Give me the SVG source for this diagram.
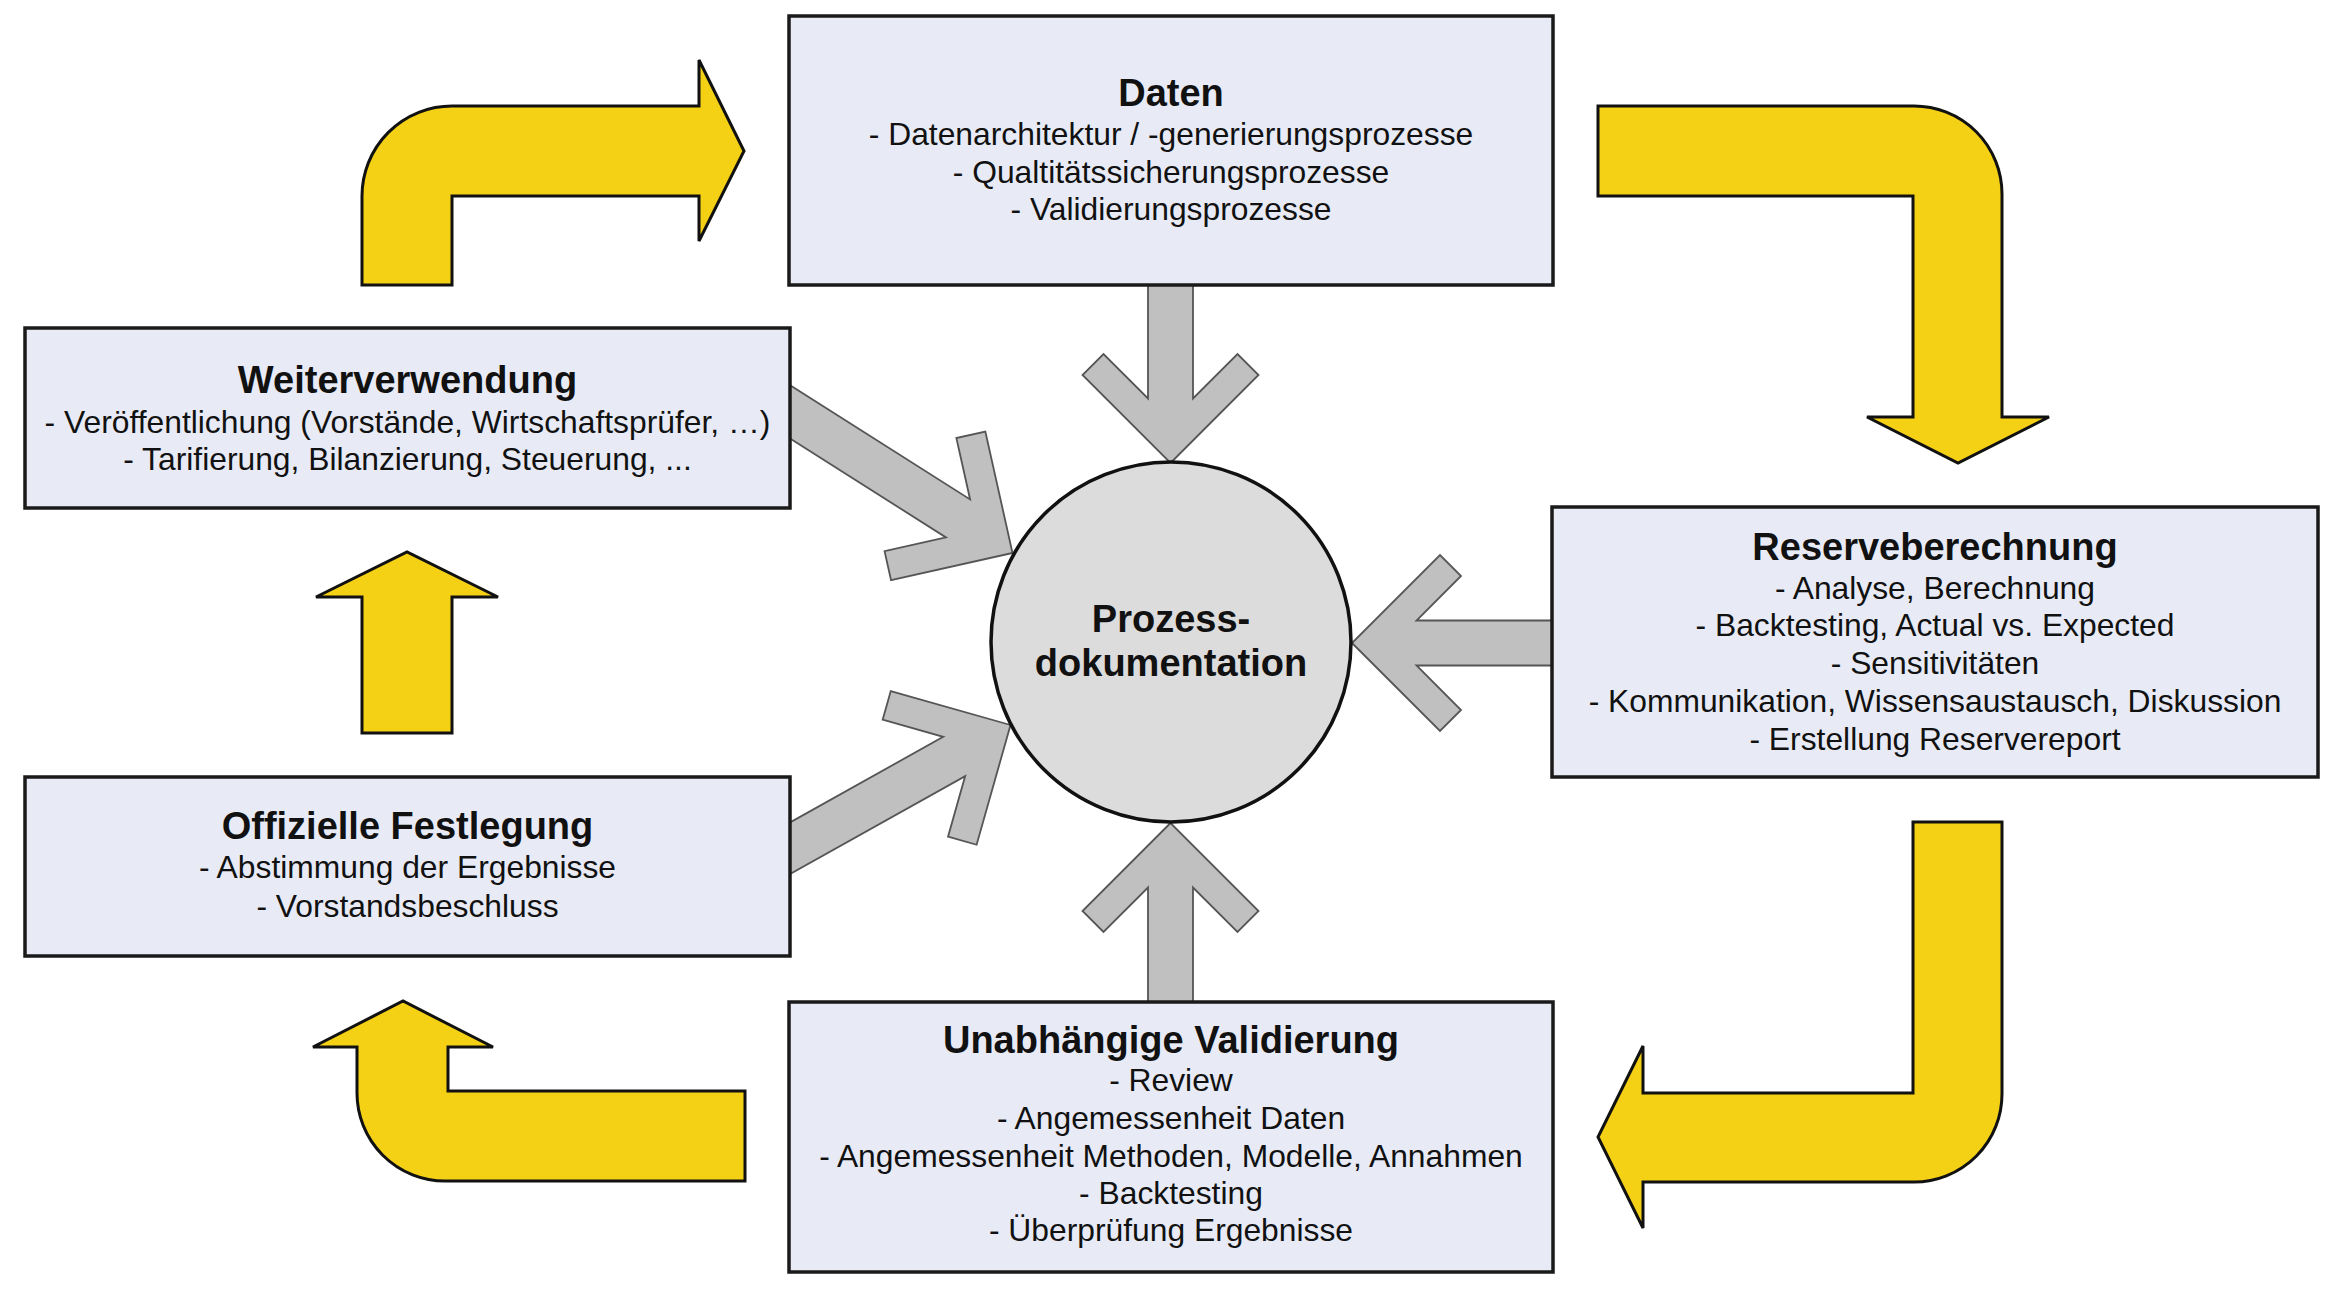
<svg xmlns="http://www.w3.org/2000/svg" width="2348" height="1290" viewBox="0 0 2348 1290">
<style>
.bg{fill:#ffffff}
.flow{fill:#f5d116;stroke:#111;stroke-width:3;stroke-linejoin:miter}
.conn{fill:#c0c0c0;stroke:#555;stroke-width:1.8;stroke-linejoin:miter}
.box{fill:#e8ebf6;stroke:#1a1a1a;stroke-width:3.5}
.hub{fill:#dcdcdc;stroke:#111;stroke-width:3.5}
.t{font-family:"Liberation Sans",Arial,sans-serif;font-size:38px;font-weight:bold;fill:#111;text-anchor:middle}
.b{font-family:"Liberation Sans",Arial,sans-serif;font-size:31.8px;fill:#111;text-anchor:middle}
</style>
<rect class="bg" x="0" y="0" width="2348" height="1290"/>
<g id="cycle-arrows">
<path class="flow" d="M362,285 V196 A90,90 0 0 1 452,106 H699 V60 L744,151 L699,241 V196 H452 V285 Z"/>
<path class="flow" d="M1598,106 H1914 A88,88 0 0 1 2002,194 V417 H2049 L1958,463 L1867,417 H1913 V196 H1598 Z"/>
<path class="flow" d="M1913,822 H2002 V1094 A88,88 0 0 1 1914,1182 H1643 V1228 L1598,1137 L1643,1046 V1093 H1913 Z"/>
<path class="flow" d="M745,1091 H448 V1047 H493 L403,1001 L313,1047 H357 V1093 A88,88 0 0 0 445,1181 H745 Z"/>
<path class="flow" d="M362,733 V597 H316 L407,552 L498,597 H452 V733 Z"/>
</g>
<g id="connectors">
<polygon class="conn" transform="translate(1170.5,463) rotate(90)" points="0,0 -88,-88 -109,-67 -64.5,-22.5 -185,-22.5 -185,22.5 -64.5,22.5 -109,67 -88,88"/>
<polygon class="conn" transform="translate(1352,643) rotate(180)" points="0,0 -88,-88 -109,-67 -64.5,-22.5 -210,-22.5 -210,22.5 -64.5,22.5 -109,67 -88,88"/>
<polygon class="conn" transform="translate(1170.5,823) rotate(-90)" points="0,0 -88,-88 -109,-67 -64.5,-22.5 -185,-22.5 -185,22.5 -64.5,22.5 -109,67 -88,88"/>
<polygon class="conn" transform="translate(1012.5,553) rotate(32.4)" points="0,0 -88,-88 -109,-67 -64.5,-22.5 -280,-22.5 -280,22.5 -64.5,22.5 -109,67 -88,88"/>
<polygon class="conn" transform="translate(1010.5,725) rotate(-29.2)" points="0,0 -88,-88 -109,-67 -64.5,-22.5 -280,-22.5 -280,22.5 -64.5,22.5 -109,67 -88,88"/>
</g>
<g id="daten">
<rect class="box" x="789" y="16" width="764" height="269"/>
<text class="t" x="1171" y="106">Daten</text>
<text class="b" x="1171" y="145">- Datenarchitektur / -generierungsprozesse</text>
<text class="b" x="1171" y="182.5">- Qualtitätssicherungsprozesse</text>
<text class="b" x="1171" y="220">- Validierungsprozesse</text>
</g>
<g id="weiterverwendung">
<rect class="box" x="25" y="328" width="765" height="180"/>
<text class="t" x="407.5" y="393">Weiterverwendung</text>
<text class="b" x="407.5" y="433">- Veröffentlichung (Vorstände, Wirtschaftsprüfer, …)</text>
<text class="b" x="407.5" y="470">- Tarifierung, Bilanzierung, Steuerung, ...</text>
</g>
<g id="reserveberechnung">
<rect class="box" x="1552" y="507" width="766" height="270"/>
<text class="t" x="1935" y="560">Reserveberechnung</text>
<text class="b" x="1935" y="598.5">- Analyse, Berechnung</text>
<text class="b" x="1935" y="636">- Backtesting, Actual vs. Expected</text>
<text class="b" x="1935" y="673.5">- Sensitivitäten</text>
<text class="b" x="1935" y="711.5">- Kommunikation, Wissensaustausch, Diskussion</text>
<text class="b" x="1935" y="749.5">- Erstellung Reservereport</text>
</g>
<g id="offizielle-festlegung">
<rect class="box" x="25" y="777" width="765" height="179"/>
<text class="t" x="407.5" y="839">Offizielle Festlegung</text>
<text class="b" x="407.5" y="878">- Abstimmung der Ergebnisse</text>
<text class="b" x="407.5" y="917">- Vorstandsbeschluss</text>
</g>
<g id="unabhaengige-validierung">
<rect class="box" x="789" y="1002" width="764" height="270"/>
<text class="t" x="1171" y="1052.5">Unabhängige Validierung</text>
<text class="b" x="1171" y="1091">- Review</text>
<text class="b" x="1171" y="1129">- Angemessenheit Daten</text>
<text class="b" x="1171" y="1166.5">- Angemessenheit Methoden, Modelle, Annahmen</text>
<text class="b" x="1171" y="1204">- Backtesting</text>
<text class="b" x="1171" y="1241">- Überprüfung Ergebnisse</text>
</g>
<g id="prozessdokumentation">
<circle class="hub" cx="1171" cy="642" r="180"/>
<text class="t" x="1171" y="632">Prozess-</text>
<text class="t" x="1171" y="676">dokumentation</text>
</g>
</svg>
